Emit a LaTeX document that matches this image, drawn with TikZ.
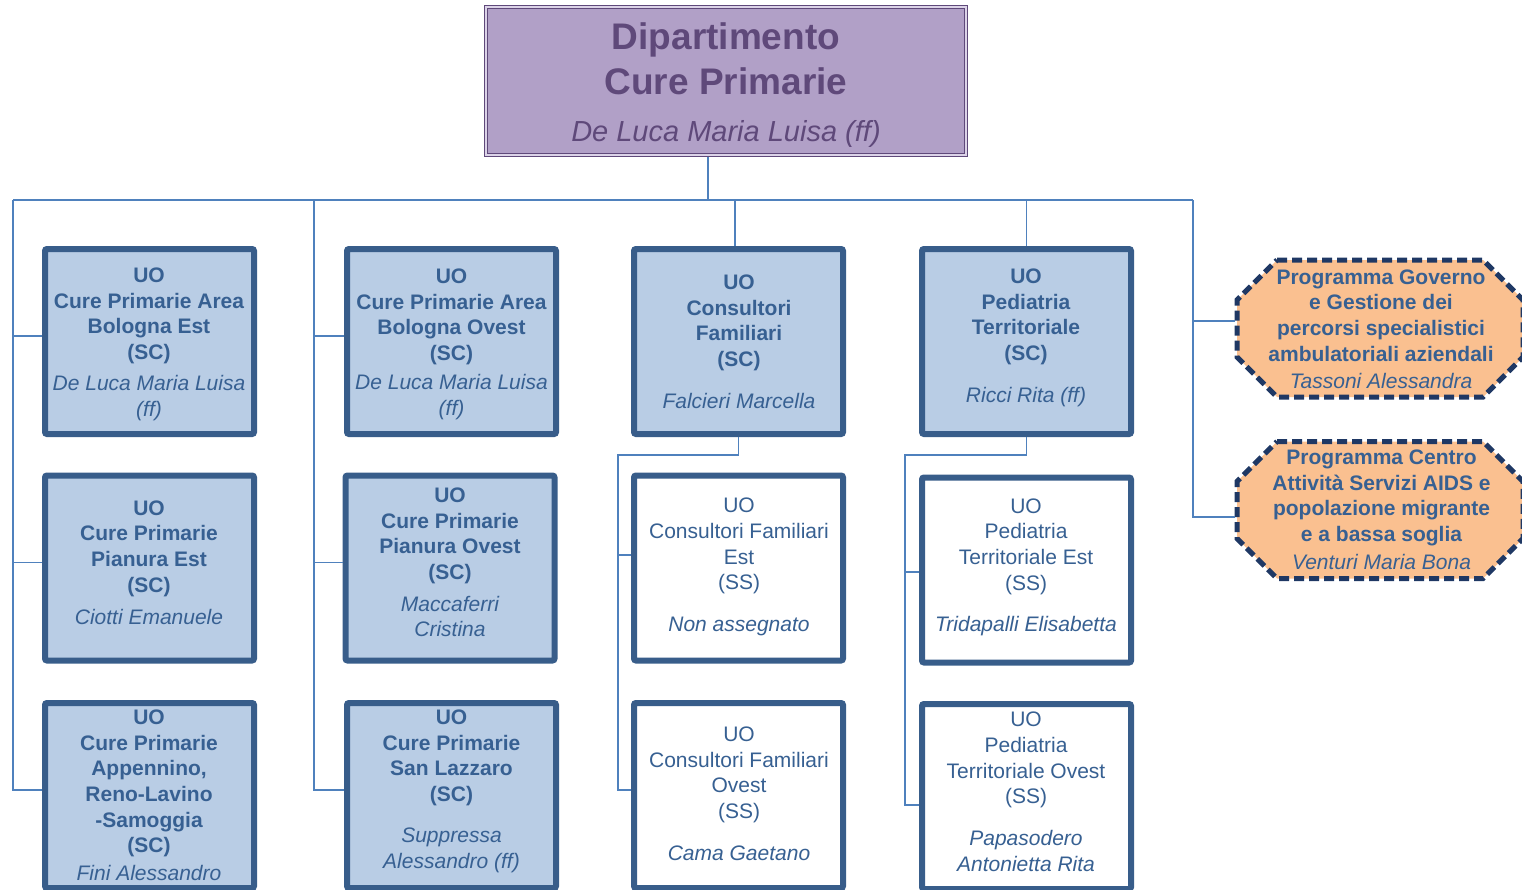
\documentclass[tikz,border=0pt]{standalone}
\usepackage{fontspec}
\setmainfont{Liberation Sans}
\usetikzlibrary{calc}
\definecolor{connc}{HTML}{4F81BD}
\definecolor{boxline}{HTML}{385D8A}
\definecolor{boxfill}{HTML}{B9CDE5}
\definecolor{txtblue}{HTML}{376092}
\definecolor{purfill}{HTML}{B1A0C7}
\definecolor{purline}{HTML}{5F497A}
\definecolor{purgap}{HTML}{DCD3E8}
\definecolor{octfill}{HTML}{FAC090}
\definecolor{octline}{HTML}{1F3864}
\newcommand\persname[1]{{\mdseries\itshape #1}}
\tikzset{
  conn/.style={draw=connc, line width=1.5pt},
  scbox/.style={draw=boxline, fill=boxfill, line width=6pt, rounded corners=2pt,
    minimum width=209pt, minimum height=185pt, inner sep=0pt},
  ssbox/.style={scbox, fill=white},
  lbl/.style={align=center, text=txtblue, inner sep=0pt, font=\fontsize{21}{25.6}\selectfont},
  blbl/.style={lbl, font=\fontsize{21}{25.6}\selectfont\bfseries},
  octarea/.style={inner sep=0pt, outer sep=0pt, minimum width=286pt, minimum height=137pt},
  octline/.style={draw=octline, fill=octfill, line width=5pt, dash pattern=on 10pt off 5pt},
  topbox/.style={draw=purline, line width=1pt, double=purgap, double distance=2pt, fill=purfill,
    minimum width=480pt, minimum height=148pt, outer sep=2pt, inner sep=0pt},
}
\begin{document}
\begin{tikzpicture}[x=1pt,y=-1pt]
\useasboundingbox (0,0) rectangle (1522,889);
\clip (0,0) rectangle (1522,889);

% top box
\node[topbox] (top) at (726,81) {};
\node[align=center, inner sep=0pt, text=purline, font=\fontsize{37}{45}\selectfont\bfseries] (topt) at (726,59.2) {Dipartimento\\Cure Primarie};
\node[anchor=base, inner sep=0pt, text=purline, font=\fontsize{29}{34}\selectfont\itshape] (topn) at (726,141.4) {De Luca Maria Luisa (ff)};

% column 1
\node[scbox] (c1b1) at (149.5,341.5) {};
\node[blbl] (c1b1t) at (149,344.2) {UO\\Cure Primarie Area\\Bologna Est\\(SC)\\[5.5pt]\persname{De Luca Maria Luisa}\\\persname{(ff)}};
\node[scbox] (c1b2) at (149.5,568) {};
\node[blbl] (c1b2t) at (149,562.5) {UO\\Cure Primarie\\Pianura Est\\(SC)\\[6.5pt]\persname{Ciotti Emanuele}};
\node[scbox] (c1b3) at (149.5,795.5) {};
\node[blbl] (c1b3t) at (149,795.5) {UO\\Cure Primarie\\Appennino,\\Reno-Lavino\\-Samoggia\\(SC)\\[2.5pt]\persname{Fini Alessandro}};

% column 2
\node[scbox] (c2b1) at (451.5,341.5) {};
\node[blbl] (c2b1t) at (451.5,344.2) {UO\\Cure Primarie Area\\Bologna Ovest\\(SC)\\[3.5pt]\persname{De Luca Maria Luisa}\\\persname{(ff)}};
\node[scbox] (c2b2) at (450,568) {};
\node[blbl] (c2b2t) at (450,562.5) {UO\\Cure Primarie\\Pianura Ovest\\(SC)\\[6.5pt]\persname{Maccaferri}\\\persname{Cristina}};
\node[scbox] (c2b3) at (451.5,795.5) {};
\node[blbl] (c2b3t) at (451.5,791.2) {UO\\Cure Primarie\\San Lazzaro\\(SC)\\[15.5pt]\persname{Suppressa}\\\persname{Alessandro (ff)}};

% column 3
\node[scbox] (c3b1) at (738.5,341.5) {};
\node[blbl] (c3b1t) at (739,342) {UO\\Consultori\\Familiari\\(SC)\\[16.5pt]\persname{Falcieri Marcella}};
\node[ssbox] (c3b2) at (738.5,568) {};
\node[lbl] (c3b2t) at (739,567.2) {UO\\Consultori Familiari\\Est\\(SS)\\[16.5pt]\persname{Non assegnato}};
\node[ssbox] (c3b3) at (738.5,795.5) {};
\node[lbl] (c3b3t) at (739,793.7) {UO\\Consultori Familiari\\Ovest\\(SS)\\[16.5pt]\persname{Cama Gaetano}};

% column 4
\node[scbox] (c4b1) at (1026.5,341.5) {};
\node[blbl] (c4b1t) at (1026,337.7) {UO\\Pediatria\\Territoriale\\(SC)\\[16.5pt]\persname{Ricci Rita (ff)}};
\node[ssbox] (c4b2) at (1026.5,570) {};
\node[lbl] (c4b2t) at (1026,567) {UO\\Pediatria\\Territoriale Est\\(SS)\\[15.5pt]\persname{Tridapalli Elisabetta}};
\node[ssbox] (c4b3) at (1026.5,796.5) {};
\node[lbl] (c4b3t) at (1026,792) {UO\\Pediatria\\Territoriale Ovest\\(SS)\\[16.5pt]\persname{Papasodero}\\\persname{Antonietta Rita}};

% octagons
\node[octarea] (oct1) at (1380,328.5) {};
\draw[octline] ($(oct1.north west)+(40,0)$) -- ($(oct1.north east)+(-40,0)$) -- ($(oct1.north east)+(0,40)$) -- ($(oct1.south east)+(0,-40)$) -- ($(oct1.south east)+(-40,0)$) -- ($(oct1.south west)+(40,0)$) -- ($(oct1.south west)+(0,-40)$) -- ($(oct1.north west)+(0,40)$) -- cycle;
\node[blbl] (oct1t) at (1381,329) {Programma Governo\\e Gestione dei\\percorsi specialistici\\ambulatoriali aziendali\\[1.5pt]\persname{Tassoni Alessandra}};
\node[octarea] (oct2) at (1380,510) {};
\draw[octline] ($(oct2.north west)+(40,0)$) -- ($(oct2.north east)+(-40,0)$) -- ($(oct2.north east)+(0,40)$) -- ($(oct2.south east)+(0,-40)$) -- ($(oct2.south east)+(-40,0)$) -- ($(oct2.south west)+(40,0)$) -- ($(oct2.south west)+(0,-40)$) -- ($(oct2.north west)+(0,40)$) -- cycle;
\node[blbl] (oct2t) at (1381.5,510) {Programma Centro\\Attività Servizi AIDS e\\popolazione migrante\\e a bassa soglia\\[2.5pt]\persname{Venturi Maria Bona}};

% connectors
\coordinate (busL) at (13,200);
\coordinate (busR) at (1193,200);
\coordinate (busC2) at (314,200);
\coordinate (drop) at (708,200);
\draw[conn] ($(top.south)+(-18,0)$) -- (drop);
\draw[conn] (busL) -- (busR);
% col 1
\draw[conn] (busL) |- ([yshift=5.5pt]c1b3.west);
\draw[conn] ([yshift=5.5pt]c1b1.west) -- +(-29,0);
\draw[conn] ([yshift=5.5pt]c1b2.west) -- +(-29,0);
% col 2
\draw[conn] (busC2) |- ([yshift=5.5pt]c2b3.west);
\draw[conn] ([yshift=5.5pt]c2b1.west) -- +(-30,0);
\draw[conn] ([yshift=5.5pt]c2b2.west) -- +(-28.5,0);
% col 3
\draw[conn] ([xshift=-3.5pt]c3b1.north) -- ([xshift=-3.5pt]c3b1.north |- busL);
\draw[conn] (c3b1.south) -- ++(0,18) -| ([xshift=-13pt,yshift=5.5pt]c3b3.west) -- ([yshift=5.5pt]c3b3.west);
\draw[conn] ([yshift=13pt]c3b2.west) -- +(-13,0);
% col 4
\draw[conn] (c4b1.north) -- (c4b1.north |- busL);
\draw[conn] (c4b1.south) -- ++(0,18) -| ([xshift=-14pt,yshift=-8.5pt]c4b3.west) -- ([yshift=-8.5pt]c4b3.west);
\draw[conn] ([yshift=-2pt]c4b2.west) -- +(-14,0);
% right
\draw[conn] (busR) |- ([xshift=-2.5pt,yshift=-7pt]oct2.west);
\draw[conn] ([xshift=-2.5pt,yshift=7.5pt]oct1.west) -- +(-41.5,0);
\end{tikzpicture}
\end{document}
